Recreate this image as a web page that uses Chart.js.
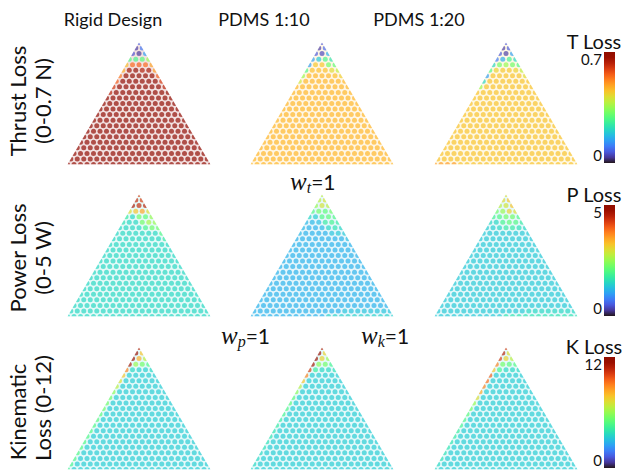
<!DOCTYPE html>
<html>
<head>
<meta charset="utf-8">
<script src="https://cdn.jsdelivr.net/npm/chart.js@4.4.1/dist/chart.umd.min.js"></script>
<style>
  body { margin: 0; background: #fff; width: 626px; height: 473px; overflow: hidden; position: relative;
         font-family: Lato, "Noto Sans", sans-serif; color: #111; }
  .lbl { position: absolute; white-space: nowrap; line-height: 1; transform: translate(-50%, -50%); }
  .rot { transform: translate(-50%, -50%) rotate(-90deg); }
  .tick { position: absolute; font-size: 14px; line-height: 1; text-align: right; }
  .bar { position: absolute; width: 11px; height: 111px; }
  .w { position: absolute; font-size: 21px; white-space: nowrap; line-height: 1; }
  .w i { font-family: "Liberation Serif", serif; font-size: 25px; }
  .w sub { font-family: "Liberation Serif", serif; font-style: italic; font-size: 16px; vertical-align: -3px; }
  canvas { position: absolute; }
</style>
</head>
<body>

<div class="lbl" style="left:113px;top:19px;font-size:18px">Rigid Design</div>
<div class="lbl" style="left:264px;top:19px;font-size:18px">PDMS 1:10</div>
<div class="lbl" style="left:419px;top:19px;font-size:18px">PDMS 1:20</div>

<div class="lbl rot" style="left:18px;top:101px;font-size:22px">Thrust Loss</div>
<div class="lbl rot" style="left:43px;top:101px;font-size:22px">(0-0.7 N)</div>
<div class="lbl rot" style="left:18px;top:258px;font-size:22px">Power Loss</div>
<div class="lbl rot" style="left:43px;top:258px;font-size:22px">(0-5 W)</div>
<div class="lbl rot" style="left:18px;top:412px;font-size:22px">Kinematic</div>
<div class="lbl rot" style="left:43px;top:408px;font-size:22px">Loss (0-12)</div>

<div class="w" style="left:290px;top:169px"><i>w</i><sub>t</sub>=1</div>
<div class="w" style="left:221px;top:323px"><i>w</i><sub>p</sub>=1</div>
<div class="w" style="left:361px;top:323px"><i>w</i><sub>k</sub>=1</div>

<div id="bars"></div>

<script>
// ternary grid: 22 steps along each side (w_t, w_p, w_k)
const STEPS = 22;

const designs = ['Rigid Design', 'PDMS 1:10', 'PDMS 1:20'];
const lossNames = ['T Loss', 'P Loss', 'K Loss'];
const lossMax = [0.7, 5, 12];
const lossTicks = [['0.7', '0'], ['5', '0'], ['12', '0']];

// values per dot, rows from the w_t=1 corner downwards; rows not listed use the fill value
const rigidThrustTop = [[0.08], [0.04, 0.10], [0.06, 0.035, 0.14], [0.28, 0.27, 0.29, 0.35],
  [0.46, 0.55, 0.56, 0.55, 0.49], [0.48, 0.66, 0.68, 0.64, 0.65, 0.50],
  [0.53, 0.68, 0.69, 0.69, 0.69, 0.68, 0.56]];
const rigidThrustLeft = [0.56, 0.60, 0.63];
const rigidThrustRight = [0.60, 0.63];
const rigidThrustFill = 0.685;

const pdms10ThrustTop = [[0.07], [0.04, 0.085], [0.07, 0.05, 0.155], [0.14, 0.19, 0.27, 0.23],
  [0.14, 0.45, 0.45, 0.315, 0.295], [0.28, 0.46, 0.46, 0.46, 0.42, 0.385],
  [0.35, 0.47, 0.47, 0.47, 0.47, 0.46, 0.44]];
const pdms10ThrustLeft = [0.40];
const pdms10ThrustRight = [];
const pdms10ThrustFill = 0.47;

const pdms20ThrustTop = [[0.07], [0.04, 0.07], [0.07, 0.04, 0.14], [0.105, 0.155, 0.265, 0.21],
  [0.21, 0.315, 0.35, 0.315, 0.28], [0.28, 0.435, 0.45, 0.45, 0.435, 0.385],
  [0.14, 0.455, 0.455, 0.455, 0.455, 0.455, 0.42]];
const pdms20ThrustLeft = [0.21, 0.35];
const pdms20ThrustRight = [];
const pdms20ThrustFill = 0.455;

const rigidPowerTop = [[4.25], [4.4, 4.25], [4.6, 4.4, 4.5], [3.0, 3.25, 3.5, 3.0],
  [1.75, 1.5, 2.25, 2.1, 2.5], [1.6, 1.5, 1.5, 2.25, 2.6, 2.5],
  [1.5, 1.5, 1.5, 1.5, 1.9, 2.25, 2.25]];
const rigidPowerLeft = [];
const rigidPowerRight = [2.0, 1.75];
const rigidPowerFill = 1.5;

const pdms10PowerTop = [[2.75], [2.75, 2.9], [2.5, 2.9, 2.75], [2.0, 2.25, 2.1, 2.25],
  [1.5, 1.4, 2.0, 2.1, 2.0], [1.2, 1.2, 1.25, 1.75, 1.9, 1.75],
  [1.2, 1.15, 1.15, 1.2, 1.5, 1.65, 1.5], [1.2, 1.15, 1.15, 1.15, 1.15, 1.3, 1.35, 1.35]];
const pdms10PowerLeft = [];
const pdms10PowerRight = [1.25];
const pdms10PowerFill = 1.15;

const pdms20PowerTop = [[3.0], [3.0, 3.25], [2.75, 2.9, 3.25], [2.25, 2.5, 3.1, 3.0],
  [1.9, 2.0, 2.25, 2.25, 2.0], [1.5, 1.5, 1.9, 2.1, 2.0, 1.75],
  [1.4, 1.4, 1.5, 1.75, 1.75, 1.6, 1.5]];
const pdms20PowerLeft = [];
const pdms20PowerRight = [];
const pdms20PowerFill = 1.35;

const rigidKinTop = [[10.8], [11.4, 7.8], [11.4, 8.2, 6.6], [11.0, 6.0, 5.4, 4.8],
  [9.0, 3.6, 3.4, 3.4, 3.6]];
const rigidKinLeft = [7.8, 7.2, 6.6, 5.8, 5.4, 5.4, 5.4, 5.0, 5.0, 4.8, 4.8, 4.8, 4.8, 4.8, 4.8, 4.8, 4.6, 4.6];
const rigidKinRight = [];
const rigidKinFill = 3.3;

const pdms10KinTop = [[10.8], [11.4, 7.45], [11.4, 7.45, 6.0], [11.2, 5.8, 5.4, 4.55],
  [10.2, 4.3, 3.6, 3.6, 3.85]];
const pdms10KinLeft = [9.0, 7.8, 6.6, 5.8, 5.0, 5.0, 4.8, 4.55, 4.2, 4.2, 3.95, 3.95, 3.85, 3.85, 3.6, 3.6, 3.6, 3.6];
const pdms10KinRight = [];
const pdms10KinFill = 3.3;

const pdms20KinTop = [[10.2], [10.8, 7.2], [10.2, 7.45, 6.6], [9.0, 5.4, 5.0, 4.8],
  [7.8, 4.55, 3.6, 3.6, 3.6]];
const pdms20KinLeft = [9.6, 9.35, 9.0, 8.4, 7.2, 6.0, 5.4, 5.0, 4.8, 4.55, 4.3, 4.2, 3.95, 3.95, 3.85, 3.85, 3.6, 3.6];
const pdms20KinRight = [];
const pdms20KinFill = 3.3;

// [row, first col, last col, value] for patches along the w_t=0 edge
const pdms10PowerSpots = [[22, 12, 22, 1.45], [21, 14, 21, 1.3]];
const pdms20PowerSpots = [[22, 11, 22, 1.65], [21, 14, 21, 1.5]];
const pdms20ThrustSpots = [[22, 0, 3, 0.5]];

const panels = [
  [rigidThrustTop, rigidThrustLeft, rigidThrustRight, rigidThrustFill, []],
  [pdms10ThrustTop, pdms10ThrustLeft, pdms10ThrustRight, pdms10ThrustFill, []],
  [pdms20ThrustTop, pdms20ThrustLeft, pdms20ThrustRight, pdms20ThrustFill, pdms20ThrustSpots],
  [rigidPowerTop, rigidPowerLeft, rigidPowerRight, rigidPowerFill, []],
  [pdms10PowerTop, pdms10PowerLeft, pdms10PowerRight, pdms10PowerFill, pdms10PowerSpots],
  [pdms20PowerTop, pdms20PowerLeft, pdms20PowerRight, pdms20PowerFill, pdms20PowerSpots],
  [rigidKinTop, rigidKinLeft, rigidKinRight, rigidKinFill, []],
  [pdms10KinTop, pdms10KinLeft, pdms10KinRight, pdms10KinFill, []],
  [pdms20KinTop, pdms20KinLeft, pdms20KinRight, pdms20KinFill, []]
];

const apexX = [139, 322, 506];
const apexY = [40, 192, 345];
const DOT_ALPHA = 0.68;

// google turbo colormap (polynomial fit)
function turbo(t) {
  t = Math.min(1, Math.max(0, t));
  const r = 0.13572138 + t * (4.61539260 + t * (-42.66032258 + t * (132.13108234 + t * (-152.94239396 + t * 59.28637943))));
  const g = 0.09140261 + t * (2.19418839 + t * (4.84296658 + t * (-14.18503333 + t * (4.27729857 + t * 2.82956604))));
  const b = 0.10667330 + t * (12.64194608 + t * (-60.58204836 + t * (110.36276771 + t * (-89.90310912 + t * 27.34824973))));
  return [r, g, b].map(v => Math.round(255 * Math.min(1, Math.max(0, v))));
}

function buildPanel(top, left, right, fill, spots) {
  const grid = [];
  for (let r = 0; r <= STEPS; r++) {
    const row = [];
    for (let c = 0; c <= r; c++) {
      let v = fill;
      if (r < top.length) {
        v = top[r][c];
      } else {
        const k = r - top.length;
        if (c === 0 && k < left.length) v = left[k];
        if (c === r && k < right.length) v = right[k];
      }
      row.push(v);
    }
    grid.push(row);
  }
  spots.forEach(([r, c0, c1, v]) => {
    for (let c = c0; c <= Math.min(c1, r); c++) grid[r][c] = v;
  });
  const pts = [];
  grid.forEach((row, r) => row.forEach((v, c) => {
    const wt = (STEPS - r) / STEPS, wk = c / STEPS, wp = (r - c) / STEPS;
    pts.push({ x: (wk - wp) / 2, y: wt, v: v });
  }));
  return pts;
}

// paint a pale triangle and clip the dots to it
const triangleClip = {
  id: 'triangleClip',
  beforeDatasetsDraw(chart, args, opts) {
    const x = chart.scales.x, y = chart.scales.y, ctx = chart.ctx;
    ctx.save();
    ctx.beginPath();
    ctx.moveTo(x.getPixelForValue(0), y.getPixelForValue(1));
    ctx.lineTo(x.getPixelForValue(0.5), y.getPixelForValue(0));
    ctx.lineTo(x.getPixelForValue(-0.5), y.getPixelForValue(0));
    ctx.closePath();
    ctx.fillStyle = opts.tint;
    ctx.fill();
    ctx.clip();
  },
  afterDatasetsDraw(chart) {
    chart.ctx.restore();
  }
};

panels.forEach((p, i) => {
  const row = Math.floor(i / 3), col = i % 3;
  const max = lossMax[row];
  const pts = buildPanel(...p);
  const colors = pts.map(d => {
    const [r, g, b] = turbo(d.v / max);
    return `rgba(${r},${g},${b},${DOT_ALPHA})`;
  });
  const [fr, fg, fb] = turbo(p[3] / max);

  const canvas = document.createElement('canvas');
  canvas.width = 148;
  canvas.height = 127;
  canvas.style.left = (apexX[col] - 74) + 'px';
  canvas.style.top = apexY[row] + 'px';
  document.body.appendChild(canvas);

  new Chart(canvas, {
    type: 'scatter',
    data: {
      datasets: [{
        label: designs[col],
        data: pts,
        pointRadius: 2.5,
        pointHoverRadius: 2.5,
        pointBorderWidth: 0,
        pointBackgroundColor: colors
      }]
    },
    options: {
      responsive: false,
      animation: false,
      events: [],
      layout: { padding: 0 },
      plugins: {
        legend: { display: false },
        tooltip: { enabled: false },
        triangleClip: { tint: `rgba(${fr},${fg},${fb},0.12)` }
      },
      scales: {
        x: { type: 'linear', min: -0.5, max: 0.5, display: false },
        y: { type: 'linear', min: 0, max: 1, display: false }
      }
    },
    plugins: [triangleClip]
  });
});

// colour bars
const stops = [];
for (let i = 0; i <= 20; i++) {
  const [r, g, b] = turbo(1 - i / 20);
  stops.push(`rgb(${r},${g},${b}) ${i * 5}%`);
}
const bars = document.getElementById('bars');
const barTop = [52, 205, 357];
lossNames.forEach((name, row) => {
  const t = barTop[row];
  bars.insertAdjacentHTML('beforeend',
    `<div class="lbl" style="left:594px;top:${t - 11}px;font-size:20px;transform:translate(-50%,-50%)">${name}</div>` +
    `<div class="bar" style="left:604px;top:${t}px;background:linear-gradient(to bottom, ${stops.join(',')})"></div>` +
    `<div class="tick" style="right:${626 - 602}px;top:${t}px;font-size:15px">${lossTicks[row][0]}</div>` +
    `<div class="tick" style="right:${626 - 602}px;top:${t + 96}px;font-size:15px">${lossTicks[row][1]}</div>`);
});
</script>
</body>
</html>
